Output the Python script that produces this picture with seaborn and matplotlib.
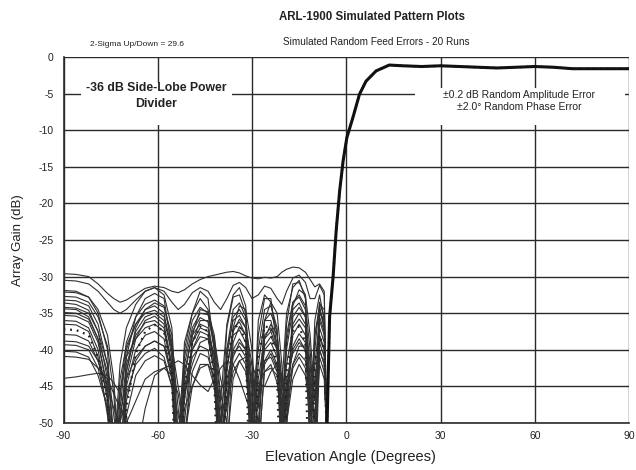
import numpy as np
import pandas as pd
import matplotlib
matplotlib.use("Agg")
import matplotlib.pyplot as plt
from matplotlib.patches import Rectangle
import seaborn as sns

# ---------------- data ----------------
X_SIDE = [-90, -86, -82, -79, -76, -74, -72, -70, -67, -64,
          -61, -58, -55.5, -53.5, -51.5, -49, -46.5, -44, -42, -40,
          -38, -36, -34, -32, -30, -28, -26, -24, -22, -20.5,
          -19, -17, -15, -13, -11.5, -10, -8.5, -7]

RUN_A = [-29.6, -29.7, -30.0, -31.0, -32.3, -33.0, -33.5, -33.2, -32.4, -31.6,
         -31.3, -31.5, -32.0, -32.2, -31.8, -31.0, -30.4, -30.0, -29.8, -29.6,
         -29.4, -29.3, -29.5, -29.9, -30.2, -30.3, -30.1, -30.2, -30.0, -29.4,
         -29.0, -28.7, -28.8, -29.4, -30.4, -31.4, -31.0, -32.0]
RUN_B = [-30.5, -30.6, -31.0, -32.0, -33.5, -34.5, -35.0, -34.5, -33.2, -32.0,
         -31.5, -32.0, -33.5, -34.5, -33.8, -32.2, -31.5, -32.0, -33.5, -34.5,
         -33.0, -31.2, -30.8, -31.5, -33.0, -32.5, -31.3, -31.6, -33.0, -33.8,
         -32.0, -30.2, -29.8, -30.8, -33.0, -33.0, -31.2, -32.5]
RUN_C = [-31.9, -32.0, -32.8, -35.0, -40.0, -55, -42, -37, -33.8, -32.0,
         -31.5, -32.5, -37, -52, -40, -35, -33.0, -34.5, -39, -47,
         -36.5, -32.5, -31.5, -34, -55, -36, -32.5, -33.5, -38, -45,
         -35, -31.5, -30.5, -33, -52, -36, -32.5, -36]
RUN_D = [-32.1, -32.2, -32.8, -34.5, -38.0, -44.0, -58, -41, -35.5, -33.0,
         -32.3, -33.0, -40, -58, -39, -35.0, -32.0, -33.0, -40, -52,
         -37, -32.8, -32.5, -35, -58, -38, -33.0, -33.0, -40, -50,
         -36.5, -31.0, -30.8, -32.5, -55, -38, -34, -37]
RUN_E = [-32.7, -32.8, -33.5, -35.5, -39.5, -46, -60, -43, -37, -34.5,
         -33.6, -34.2, -38, -56, -41, -36, -34.2, -35, -40, -60,
         -40, -34.5, -33.6, -35.5, -47, -40, -34.5, -34, -37, -55,
         -38, -33.5, -32.5, -34, -40, -50, -35, -36]
RUN_F = [-33.2, -33.3, -34.0, -36.5, -42, -52, -46, -39, -35.5, -33.8,
         -33.2, -34, -39, -48, -55, -38, -34.5, -34.8, -38, -46,
         -50, -37, -34, -34.5, -40, -52, -36, -33.5, -35, -42,
         -50, -34, -31.8, -32.5, -38, -47, -33.8, -34.5]
RUN_G = [-33.6, -33.8, -34.6, -37.5, -44, -65, -48, -40, -36.5, -34.5,
         -34.0, -35, -41, -62, -42, -37, -35, -35.2, -39, -50,
         -41, -35.5, -34.5, -36, -44, -48, -36, -35, -37.5, -50,
         -39, -33.5, -32.8, -34.5, -45, -40, -33.5, -35.5]
RUN_H = [-34.2, -34.3, -35.0, -37.5, -42, -49, -55, -43, -37.5, -35.5,
         -35.0, -36, -40, -52, -44, -37.5, -35.6, -36.2, -42, -60,
         -40, -36, -35.3, -37, -52, -42, -36, -36, -40, -48,
         -40, -34.5, -33.6, -35.5, -55, -38, -34.5, -37]
RUN_I = [-34.4, -34.5, -35.5, -38.5, -46, -58, -44, -39.5, -36.5, -35.0,
         -34.6, -35.5, -39.5, -45, -50, -39, -36.0, -36.0, -38.5, -44,
         -47, -37.5, -35.8, -37, -42, -52, -38.5, -36.5, -38, -44,
         -50, -35.5, -34.2, -35.5, -42, -52, -34.8, -36]
RUN_J = [-34.9, -35.0, -35.8, -38.5, -43, -52, -66, -44, -38.5, -36.0,
         -35.4, -36.5, -42, -60, -43, -38, -36.5, -37, -41, -56,
         -43, -37, -36.2, -38, -45, -50, -38, -37, -39, -46,
         -48, -36.5, -35, -36.5, -44, -58, -35.5, -37.5]
RUN_K = [-35.3, -35.4, -36.2, -39, -45, -56, -50, -42, -38, -36.3,
         -36.0, -37, -43, -53, -47, -39, -37, -37.5, -42, -48,
         -55, -39, -36.8, -38, -50, -44, -38.5, -37.5, -40, -50,
         -42, -37, -35.8, -37, -49, -42, -36, -38]
RUN_L = [-36.0, -36.1, -37.0, -40, -47, -62, -46, -41, -38.5, -37.0,
         -36.5, -37.5, -42, -55, -46, -40, -37.5, -38, -43, -62,
         -42, -38, -37.3, -39, -55, -46, -39.5, -38.2, -40, -56,
         -46, -38, -36.5, -38, -46, -50, -37, -39]
RUN_M = [-36.5, -36.6, -37.5, -41, -49, -55, -60, -45, -40, -38,
         -37.5, -38.5, -44, -55, -45, -40, -38.2, -38.5, -43, -50,
         -45, -40, -38.5, -40, -48, -47, -40, -39, -41, -45,
         -47, -39.5, -37.8, -39, -44, -47, -38, -40]
RUN_N = [-37.9, -38.0, -38.8, -41.5, -46, -53, -64, -47, -41.5, -39.5,
         -38.8, -39.5, -44, -58, -46, -41, -39.5, -40, -45, -56,
         -44, -40.5, -39.5, -41, -58, -46, -41.5, -40, -42, -56,
         -44, -40.5, -39, -40, -47, -58, -39, -41]
RUN_O = [-38.8, -38.9, -39.5, -41.5, -45, -48, -50, -46, -42, -40.5,
         -39.8, -41, -45, -49, -52, -43, -40.5, -41, -44, -53,
         -47, -42, -40.5, -42, -49, -46, -41.5, -41, -43, -47,
         -50, -42, -40.5, -41.5, -46, -49, -40, -42]
RUN_P = [-39.3, -39.4, -40, -42.5, -48, -60, -49, -44, -41, -39.5,
         -38.8, -39.5, -43, -55, -46, -42, -39, -38.5, -40.5, -55,
         -47, -41, -39, -40, -45, -55, -42, -40.5, -42.5, -52,
         -45, -40, -38.5, -40, -48, -44, -38.5, -40]
RUN_Q = [-40.2, -40.3, -41, -43.5, -48, -56, -62, -49, -43.5, -41.5,
         -40.8, -41.5, -45, -60, -48, -45, -42, -42, -45, -51,
         -48, -43, -41.5, -43, -50, -54, -43, -42, -44.5, -50,
         -48, -42.5, -41, -42.5, -50, -60, -41, -43]
RUN_R = [-40.9, -41.0, -41.3, -42.5, -44, -46, -48, -50, -47, -44,
         -43, -42.5, -42.0, -41.5, -42, -43.5, -44.8, -45.7, -44.0, -42.5,
         -41.5, -42.0, -44, -46.5, -49, -45, -43, -42.5, -43.5, -46,
         -50, -44, -42, -43.5, -48, -52, -42, -44]
RUN_S = [-43.9, -43.7, -43.4, -43.2, -43.5, -44.5, -46, -49, -55, -48,
         -43.5, -42.5, -43.5, -46, -52, -45, -42.5, -42, -43.5, -47,
         -53, -44, -41.5, -41, -42, -44.5, -45, -43, -42, -43.5,
         -46, -42, -39.5, -39.5, -41.5, -45, -40, -42]
RUN_DESIGN = [-37.2, -37.3, -38.0, -41, -47, -60, -70, -48, -40.5, -37.5,
              -36.6, -37.5, -43, -70, -45, -39, -36.8, -37.5, -44, -70,
              -42, -37, -36.6, -39, -70, -41, -36.8, -37, -43, -70,
              -43, -37.5, -36.8, -39, -70, -42, -38, -40]

# main beam (all runs overlap here)
X_BEAM = [-6.2, -5.8, -5.3, -4.2, -3.2, -2.1, -1.0, 0.2, 2.1, 4.2, 6.3, 9.5,
          13.7, 18, 24, 30, 36, 42, 48, 54, 60, 66, 72, 78, 84, 90]
Y_BEAM = [-52, -44.6, -35.5, -30.1, -23.7, -18.3, -14.2, -11.0, -8.3, -5.1,
          -3.3, -1.9, -1.1, -1.2, -1.3, -1.2, -1.3, -1.4, -1.5, -1.4, -1.3,
          -1.4, -1.6, -1.6, -1.6, -1.6]

RUNS = [RUN_A, RUN_B, RUN_C, RUN_D, RUN_E, RUN_F, RUN_G, RUN_H, RUN_I, RUN_J,
        RUN_K, RUN_L, RUN_M, RUN_N, RUN_O, RUN_P, RUN_Q, RUN_R, RUN_S]

X_TICKS = [-90, -60, -30, 0, 30, 60, 90]
Y_TICKS = [0, -5, -10, -15, -20, -25, -30, -35, -40, -45, -50]

# ---------------- style ----------------
sns.set_theme(style="white")
plt.rcParams["font.family"] = ["Liberation Sans", "DejaVu Sans"]
plt.rcParams["axes.unicode_minus"] = False

W, H = 636, 470
fig = plt.figure(figsize=(W / 100, H / 100), dpi=100)
L_PX, R_PX, T_PX, B_PX = 63.5, 629, 57, 423
ax = fig.add_axes([L_PX / W, 1 - B_PX / H, (R_PX - L_PX) / W, (B_PX - T_PX) / H])

# build long table
rows = []
for i, r in enumerate(RUNS):
    xs = X_SIDE + X_BEAM
    ys = r + Y_BEAM
    rows.append(pd.DataFrame({"angle": xs, "gain": ys, "run": i}))
df = pd.concat(rows, ignore_index=True)
design = pd.DataFrame({"angle": X_SIDE + X_BEAM, "gain": RUN_DESIGN + Y_BEAM})
beam = pd.DataFrame({"angle": X_BEAM, "gain": Y_BEAM})

grid_c = "#2a2a2a"
for yv in Y_TICKS:
    ax.axhline(yv, color=grid_c, lw=1.0, zorder=1)
for xv in X_TICKS:
    ax.axvline(xv, color=grid_c, lw=1.0, zorder=1)

# white label boxes (cover the grid)
ax.add_patch(Rectangle((-84.4, -9.3), 47.9, 5.75, facecolor="white",
                       edgecolor="none", zorder=2))
ax.add_patch(Rectangle((21.9, -9.3), 66.7, 5.1, facecolor="white",
                       edgecolor="none", zorder=2))

sns.lineplot(data=df, x="angle", y="gain", units="run", estimator=None,
             color="#303030", lw=0.8, sort=False, ax=ax, zorder=3)
sns.lineplot(data=design, x="angle", y="gain", color="#202020", lw=1.6,
             linestyle=(0, (0.8, 2.2)), sort=False, ax=ax, zorder=3)
sns.lineplot(data=beam, x="angle", y="gain", color="#111111", lw=2.2,
             sort=False, ax=ax, zorder=4)

ax.set_xlim(-90, 90)
ax.set_ylim(-50, 0)
ax.set_xticks(X_TICKS)
ax.set_yticks(Y_TICKS)
ax.set_xticklabels([str(v) for v in X_TICKS], fontsize=7.5)
ax.set_yticklabels([str(v) for v in Y_TICKS], fontsize=7.5)
ax.tick_params(axis="both", direction="out", length=4, width=1.0,
               color=grid_c, pad=3, labelcolor="#222222")
ax.tick_params(axis="x", direction="inout", length=6)
for side in ["top", "right"]:
    ax.spines[side].set_visible(False)
for side in ["left", "bottom"]:
    ax.spines[side].set_color(grid_c)
    ax.spines[side].set_linewidth(1.2)

ax.set_xlabel("Elevation Angle (Degrees)", fontsize=10.5, color="#222222")
ax.set_ylabel("Array Gain (dB)", fontsize=9.5, color="#222222")
ax.xaxis.set_label_coords(0.508, -0.074)
ax.yaxis.set_label_coords(-0.07, 0.5)

ax.text(-60.5, -5.35, "-36 dB Side-Lobe Power\nDivider", ha="center",
        va="center", fontsize=8.8, fontweight="bold", color="#222222",
        linespacing=1.45, zorder=5)
ax.text(55, -6.05, "\u00b10.2 dB Random Amplitude Error\n\u00b12.0\u00b0 Random Phase Error",
        ha="center", va="center", fontsize=7.5, color="#222222",
        linespacing=1.2, zorder=5)

fig.text(372 / W, 1 - 17 / H, "ARL-1900 Simulated Pattern Plots", ha="center",
         va="center", fontsize=8.3, fontweight="bold", color="#222222")
fig.text(376 / W, 1 - 42 / H, "Simulated Random Feed Errors - 20 Runs",
         ha="center", va="center", fontsize=7.2, color="#222222")
fig.text(137 / W, 1 - 45 / H, "2-Sigma Up/Down = 29.6", ha="center",
         va="center", fontsize=6.0, color="#222222")

fig.savefig("out.png", dpi=100, facecolor="white")
